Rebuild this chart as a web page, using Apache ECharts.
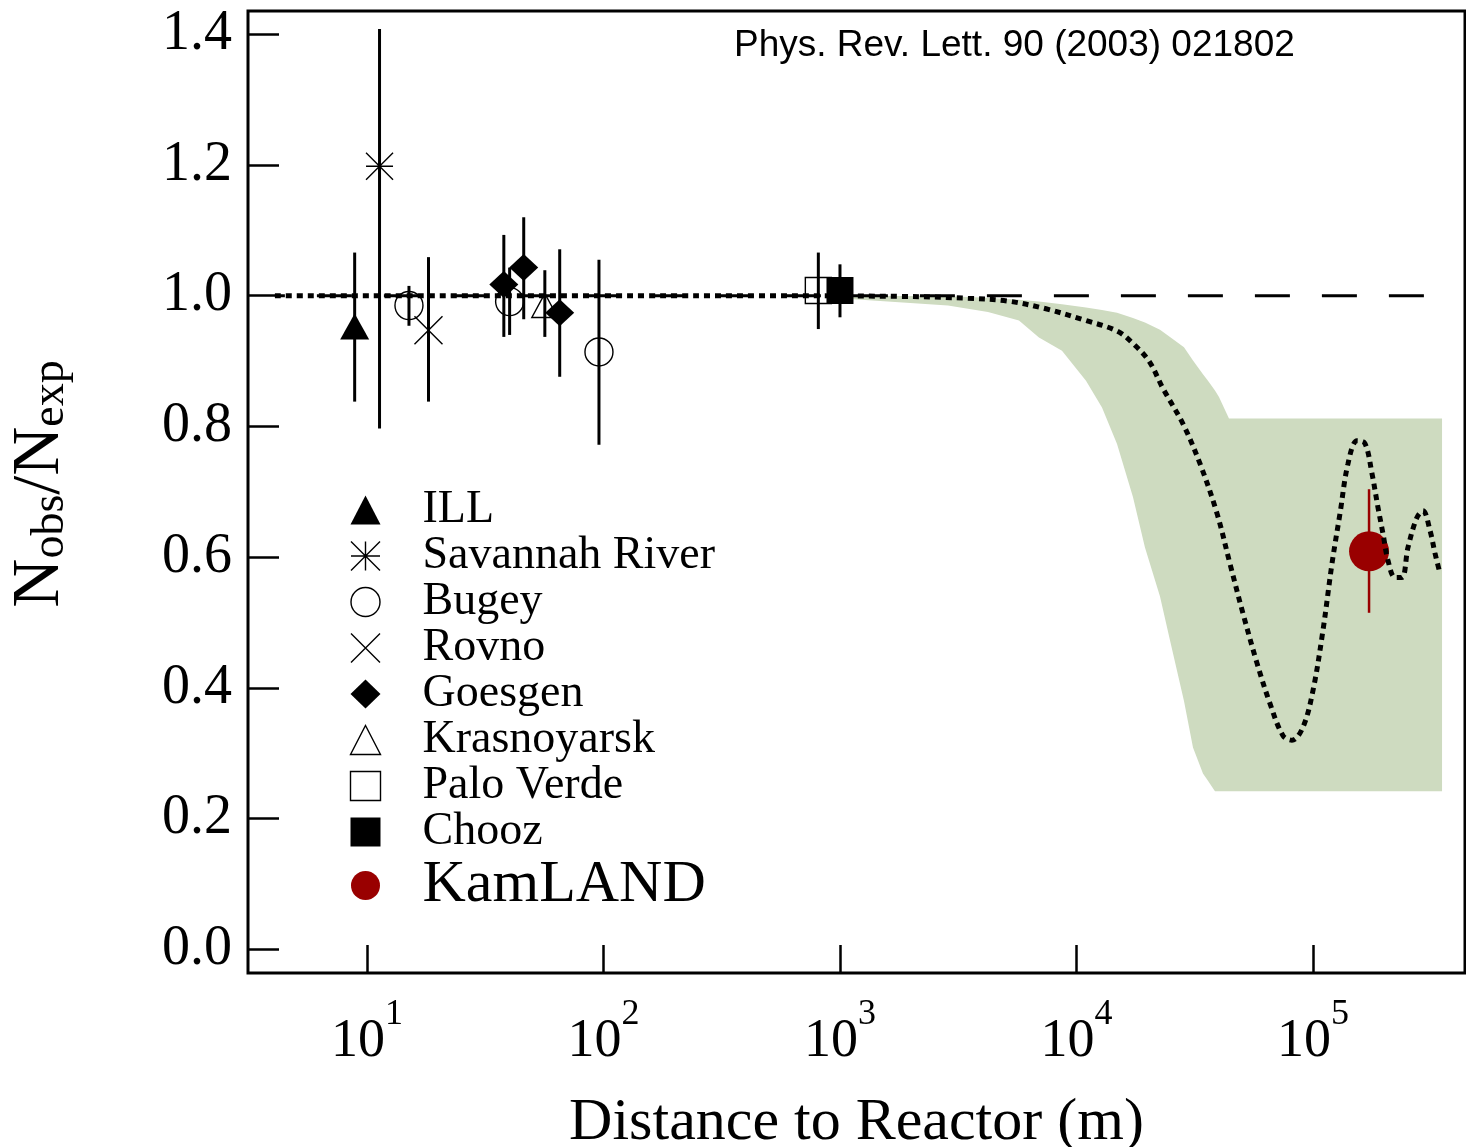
<!DOCTYPE html>
<html><head><meta charset="utf-8">
<script src="https://cdn.jsdelivr.net/npm/echarts@6/dist/echarts.min.js"></script>
<style>html,body{margin:0;padding:0;background:#fff}#c{width:1466px;height:1147px}</style>
</head><body><div id="c"></div>
<script>
// ---- data ----
const illDist = [8.87],  illRatio = [0.953], illLo = [0.838], illHi = [1.066];
const srDist = [11.3],   srRatio = [1.198],  srLo = [0.797],  srHi = [1.408];
const bugeyDist = [15.05, 40.1, 95.7], bugeyRatio = [0.985, 0.991, 0.914], bugeyLo = [0.954, 0.940, 0.772], bugeyHi = [1.015, 1.043, 1.055];
const rovnoDist = [18.2], rovnoRatio = [0.947], rovnoLo = [0.838], rovnoHi = [1.059];
const goesgenDist = [37.9, 46.0, 65.3], goesgenRatio = [1.017, 1.043, 0.974], goesgenLo = [0.937, 0.964, 0.876], goesgenHi = [1.093, 1.120, 1.071];
const krasDist = [56.5], krasRatio = [0.985], krasLo = [0.937], krasHi = [1.039];
const paloDist = [810], paloRatio = [1.008], paloLo = [0.949], paloHi = [1.066];
const choozDist = [1000], choozRatio = [1.008], choozLo = [0.967], choozHi = [1.048];
const kamDist = [172600], kamRatio = [0.609], kamLo = [0.515], kamHi = [0.704];

// allowed region (green band)
const bandDist = [1102, 2862, 4225, 5713, 6940, 8684, 10970, 12820, 14840, 17330, 19480, 22550, 24850, 28480, 31090, 34260, 35970, 38510, 40040, 44140, 351300];
const bandLow  = [0.995, 0.985, 0.975, 0.962, 0.936, 0.916, 0.870, 0.829, 0.773, 0.692, 0.615, 0.540, 0.473, 0.380, 0.309, 0.269, 0.258, 0.242, 0.242, 0.242, 0.242];
const bandHigh = [1.000, 0.999, 0.997, 0.994, 0.991, 0.987, 0.982, 0.978, 0.974, 0.966, 0.959, 0.948, 0.937, 0.921, 0.901, 0.880, 0.870, 0.855, 0.845, 0.812, 0.812];

// best-fit oscillation curve (dotted)
const curveDist = [4.08, 256, 1794, 3476, 5083, 7430, 10970, 14840, 17330, 20260, 23220, 28200, 33290, 39280, 44570, 50580, 57980, 65810, 74690, 81500, 90720, 100000, 110200, 120300, 130100, 140600, 153500, 165900, 177600, 188300, 197700, 207600, 222200, 237800, 252200, 275300, 291900, 312400, 328100, 344400];
const curveRatio = [1.0, 1.0, 0.999, 0.996, 0.992, 0.980, 0.962, 0.946, 0.927, 0.900, 0.858, 0.804, 0.743, 0.667, 0.590, 0.514, 0.438, 0.376, 0.327, 0.320, 0.340, 0.396, 0.488, 0.590, 0.667, 0.743, 0.778, 0.774, 0.728, 0.676, 0.636, 0.595, 0.569, 0.569, 0.615, 0.661, 0.671, 0.641, 0.606, 0.575];

// no-oscillation reference (dashed)
const refDist = [4.08, 300500], refRatio = [1, 1];

const legendNames = ['ILL', 'Savannah River', 'Bugey', 'Rovno', 'Goesgen', 'Krasnoyarsk', 'Palo Verde', 'Chooz', 'KamLAND'];
const citation = 'Phys. Rev. Lett. 90 (2003) 021802';

// ---- build ----
const SERIF = '"Liberation Serif", "Times New Roman", serif';
const zip2 = (a, b) => a.map((v, i) => [v, b[i]]);
const zip3 = (a, b, c) => a.map((v, i) => [v, b[i], c[i]]);

const blackBars = [].concat(
  zip3(illDist, illLo, illHi), zip3(srDist, srLo, srHi), zip3(bugeyDist, bugeyLo, bugeyHi),
  zip3(rovnoDist, rovnoLo, rovnoHi), zip3(goesgenDist, goesgenLo, goesgenHi), zip3(krasDist, krasLo, krasHi),
  zip3(paloDist, paloLo, paloHi), zip3(choozDist, choozLo, choozHi)
);
const redBars = zip3(kamDist, kamLo, kamHi);

function barRenderer(color, width) {
  return function (params, api) {
    const p1 = api.coord([api.value(0), api.value(1)]);
    const p2 = api.coord([api.value(0), api.value(2)]);
    return { type: 'line', shape: { x1: p1[0], y1: p1[1], x2: p2[0], y2: p2[1] },
             style: { stroke: color, lineWidth: width } };
  };
}

const STAR = 'path://M10,0L10,20M0,10L20,10M0,0L20,20M0,20L20,0';
const CROSS = 'path://M0,0L20,20M0,20L20,0';
const open = { color: 'none', borderColor: '#000', borderWidth: 1.4, opacity: 1 };

function sc(name, dist, ratio, symbol, size, itemStyle, z) {
  return { name, type: 'scatter', data: zip2(dist, ratio), symbol, symbolSize: size, symbolKeepAspect: true,
           itemStyle: Object.assign({ opacity: 1 }, itemStyle), z: z || 5, emphasis: { disabled: true } };
}

const chart = echarts.init(document.getElementById('c'), null, { renderer: 'canvas' });
chart.setOption({
  animation: false,
  backgroundColor: '#fff',
  title: { text: citation, left: 734, top: 27, padding: 0,
           textStyle: { fontFamily: '"Liberation Sans", Arial, sans-serif', fontSize: 37, fontWeight: 'normal', color: '#000' } },
  grid: { left: 248, top: 11, width: 1217, height: 962, show: true, borderColor: '#000', borderWidth: 3,
          backgroundColor: 'transparent', containLabel: false, outerBoundsMode: 'none' },
  xAxis: {
    type: 'log', logBase: 10, min: 3.14, max: 439300,
    axisLine: { show: false, onZero: false },
    axisTick: { inside: true, length: 28, lineStyle: { color: '#000', width: 2.5 } },
    splitLine: { show: false },
    axisLabel: {
      margin: 24, showMinLabel: false, showMaxLabel: false,
      formatter: v => '{b|10}{s|' + Math.round(Math.log10(v)) + '}',
      rich: {
        b: { fontFamily: SERIF, fontSize: 54, lineHeight: 72, color: '#000', verticalAlign: 'bottom' },
        s: { fontFamily: SERIF, fontSize: 36, lineHeight: 36, color: '#000', verticalAlign: 'top' }
      }
    },
    name: 'Distance to Reactor (m)', nameLocation: 'middle', nameGap: 120,
    nameTextStyle: { fontFamily: SERIF, fontSize: 60, color: '#000' }
  },
  yAxis: {
    type: 'value', min: -0.036, max: 1.4355, minInterval: 0.2, maxInterval: 0.2, splitNumber: 7,
    axisLine: { show: false, onZero: false },
    axisTick: { inside: true, length: 31, lineStyle: { color: '#000', width: 2.5 } },
    splitLine: { show: false },
    axisLabel: { margin: 16, showMinLabel: false, showMaxLabel: false, fontFamily: SERIF, fontSize: 56, color: '#000',
                 formatter: v => Math.abs(v).toFixed(1) },
    name: '{n|N}{s|obs}{n|/N}{s|exp}', nameLocation: 'middle', nameGap: 174,
    nameTextStyle: {
      padding: [0, 0, 0, 16],
      rich: {
        n: { fontFamily: SERIF, fontSize: 68, lineHeight: 68, color: '#000', verticalAlign: 'top' },
        s: { fontFamily: SERIF, fontSize: 46, lineHeight: 46, color: '#000', verticalAlign: 'bottom', padding: [32, 0, 0, 0] }
      }
    }
  },
  legend: {
    orient: 'vertical', left: 348, top: 487, padding: 0, itemGap: 0,
    itemWidth: 30, itemHeight: 29, selectedMode: false,
    textStyle: { fontFamily: SERIF, fontSize: 46, lineHeight: 45, color: '#000', padding: [0, 0, 0, 37] },
    data: legendNames.map(n => n === 'KamLAND'
      ? { name: n, textStyle: { fontSize: 60, lineHeight: 61, padding: [0, 0, 0, 37] }, itemStyle: { borderWidth: 0 } }
      : { name: n, itemStyle: { borderWidth: 1.4 } })
  },
  series: [
    { name: 'band', type: 'custom', z: 1, silent: true, clip: true,
      data: zip3(bandDist, bandLow, bandHigh),
      encode: { x: 0, y: [1, 2] },
      renderItem: function (params, api) {
        if (params.dataIndex !== 0) return null;
        const pts = [];
        for (let i = 0; i < bandDist.length; i++) pts.push(api.coord([bandDist[i], bandHigh[i]]));
        for (let i = bandDist.length - 1; i >= 0; i--) pts.push(api.coord([bandDist[i], bandLow[i]]));
        return { type: 'polygon', shape: { points: pts }, style: { fill: '#cedbc0', stroke: null } };
      } },
    { name: 'ref', type: 'line', z: 2, data: zip2(refDist, refRatio), symbol: 'none', silent: true,
      lineStyle: { color: '#000', width: 3, type: [35, 32], dashOffset: 25 } },
    { name: 'errBlack', type: 'custom', z: 3, silent: true, data: blackBars, encode: { x: 0, y: [1, 2] },
      renderItem: barRenderer('#000', 3) },
    { name: 'errRed', type: 'custom', z: 3, silent: true, data: redBars, encode: { x: 0, y: [1, 2] },
      renderItem: barRenderer('#990000', 2.5) },
    sc('ILL', illDist, illRatio, 'triangle', [29, 26], { color: '#000' }),
    sc('Savannah River', srDist, srRatio, STAR, 27, open),
    sc('Bugey', bugeyDist, bugeyRatio, 'circle', 28, open),
    sc('Rovno', rovnoDist, rovnoRatio, CROSS, 28, open),
    sc('Goesgen', goesgenDist, goesgenRatio, 'diamond', [29, 27], { color: '#000' }),
    sc('Krasnoyarsk', krasDist, krasRatio, 'triangle', [26, 24], open),
    sc('Palo Verde', paloDist, paloRatio, 'rect', 26, open),
    sc('Chooz', choozDist, choozRatio, 'rect', 27, { color: '#000' }),
    sc('KamLAND', kamDist, kamRatio, 'circle', 40, { color: '#990000' }, 4),
    { name: 'curve', type: 'line', z: 6, data: zip2(curveDist, curveRatio), symbol: 'none', silent: true, smooth: 0.35,
      lineStyle: { color: '#000', width: 5, type: [6, 5] } }
  ]
});
</script></body></html>
